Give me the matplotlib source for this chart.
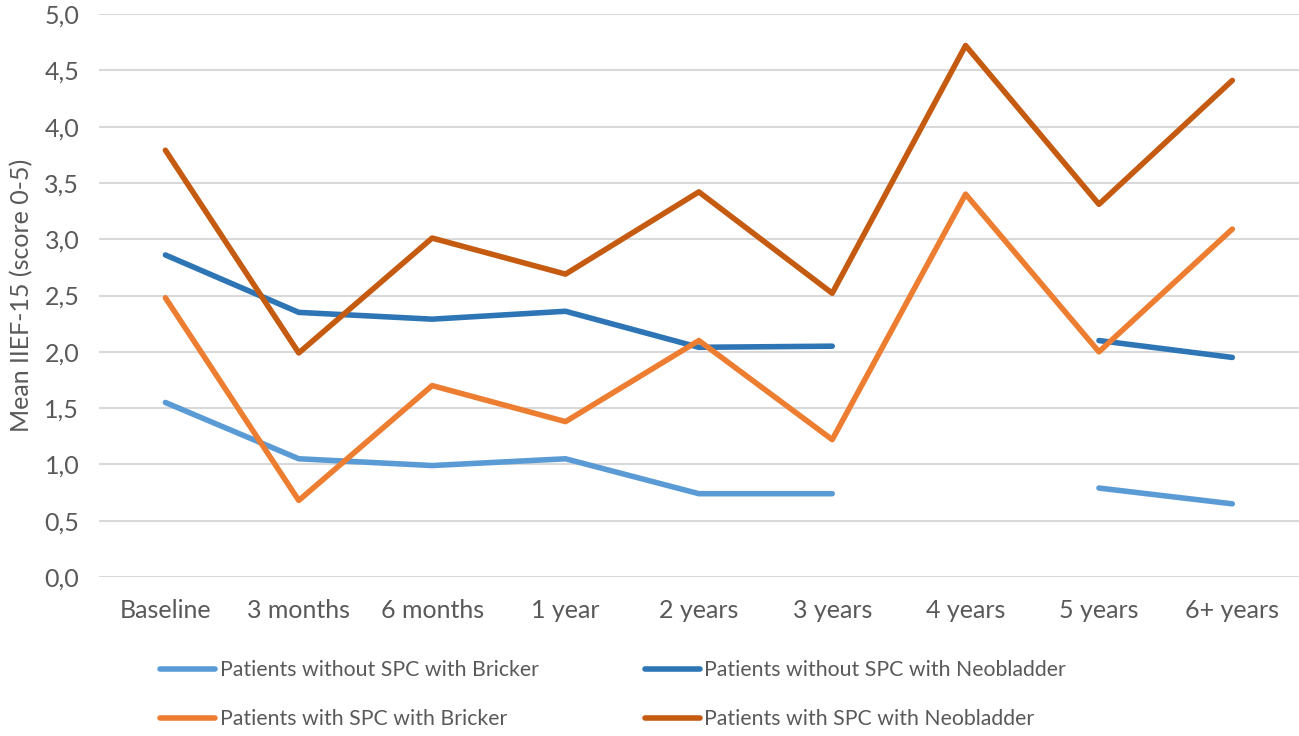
import numpy as np
import matplotlib
matplotlib.use('Agg')
from matplotlib import pyplot as plt

# data
timepoints = ['Baseline', '3 months', '6 months', '1 year', '2 years',
              '3 years', '4 years', '5 years', '6+ years']
no_spc_bricker = [1.55, 1.05, 0.99, 1.05, 0.74, 0.74, np.nan, 0.79, 0.65]
no_spc_neo = [2.86, 2.35, 2.29, 2.36, 2.04, 2.05, np.nan, 2.10, 1.95]
spc_bricker = [2.48, 0.68, 1.70, 1.38, 2.10, 1.22, 3.40, 2.00, 3.09]
spc_neo = [3.79, 1.99, 3.01, 2.69, 3.42, 2.52, 4.72, 3.31, 4.41]

plt.rcParams['font.family'] = ['Lato', 'DejaVu Sans']
txt = '#595959'

fig = plt.figure(figsize=(12.99, 7.36), dpi=100)
ax = fig.add_axes([0.076, 0.216, 0.924, 0.765])

x = np.arange(len(timepoints))
l1, = ax.plot(x, no_spc_bricker, color='#5B9BD5', lw=4, solid_capstyle='round',
              label='Patients without SPC with Bricker')
l2, = ax.plot(x, no_spc_neo, color='#2E75B6', lw=4, solid_capstyle='round',
              label='Patients without SPC with Neobladder')
l3, = ax.plot(x, spc_bricker, color='#ED7D31', lw=4, solid_capstyle='round',
              label='Patients with SPC with Bricker')
l4, = ax.plot(x, spc_neo, color='#C55A11', lw=4, solid_capstyle='round',
              label='Patients with SPC with Neobladder')

ax.set_xlim(-0.5, len(timepoints) - 0.5)
ax.set_ylim(0, 5)
ax.set_yticks(np.arange(0, 5.01, 0.5))
ax.set_yticklabels([f'{v:.1f}'.replace('.', ',') for v in np.arange(0, 5.01, 0.5)])
ax.set_xticks(x)
ax.set_xticklabels(timepoints)
ax.tick_params(length=0, labelsize=18, colors=txt)
ax.tick_params(axis='x', pad=16)
ax.tick_params(axis='y', pad=14)
ax.grid(axis='y', color='#D9D9D9', lw=1.5)
ax.set_axisbelow(True)
for s in ax.spines.values():
    s.set_visible(False)
ax.set_ylabel('Mean IIEF-15 (score 0-5)', fontsize=18, color=txt, labelpad=8)

fig.legend(handles=[l1, l3, l2, l4], loc='center', bbox_to_anchor=(0.472, 0.056),
           ncol=2, frameon=False, fontsize=15.3, labelcolor=txt,
           handlelength=2.6, handletextpad=0.2, columnspacing=5.0,
           labelspacing=1.35)

fig.savefig('out.png', dpi=100)
